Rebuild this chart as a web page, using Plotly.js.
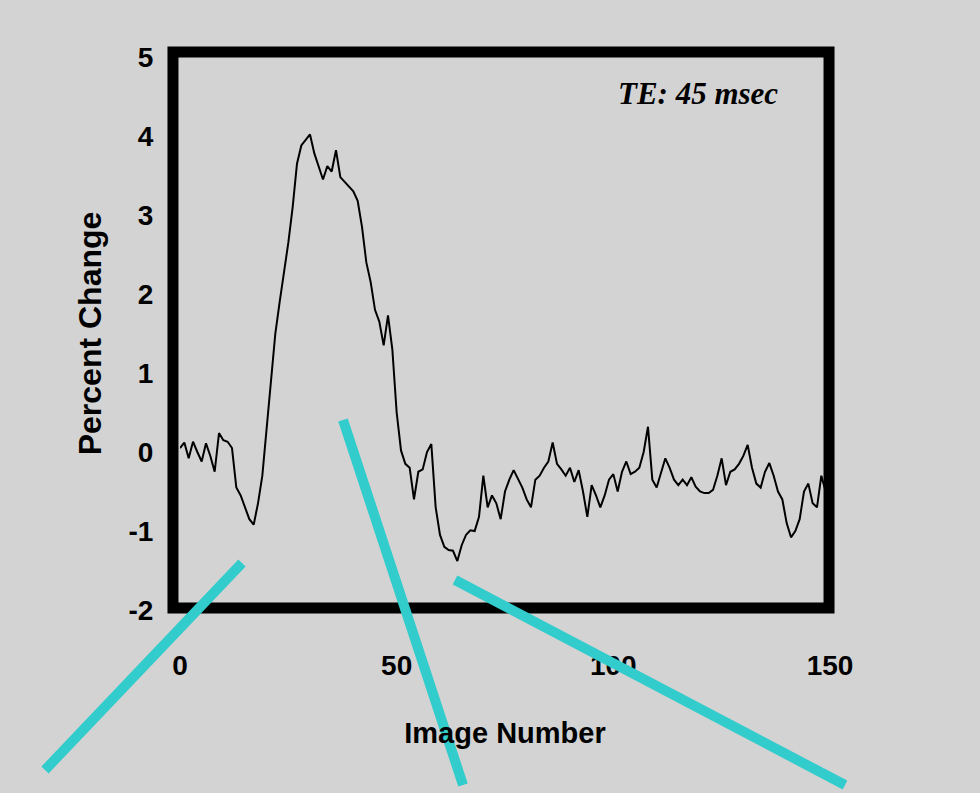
<!DOCTYPE html>
<html>
<head>
<meta charset="utf-8">
<script src="https://cdn.plot.ly/plotly-3.0.1.min.js"></script>
<style>html,body{margin:0;padding:0;background:#d3d3d3;}#chart{width:980px;height:793px;}</style>
</head>
<body>
<div id="chart"></div>
<script>
// Image numbers 0..150
const imageNumber = [];
for (let i = 0; i <= 150; i++) imageNumber.push(i);

// Percent change
const percentChange = [
  0.05, 0.12, -0.08, 0.13, 0.0, -0.12, 0.11, -0.05, -0.25, 0.24,
  0.15, 0.13, 0.05, -0.45, -0.55, -0.7, -0.85, -0.92, -0.65, -0.3,
  0.3, 0.95, 1.5, 1.9, 2.25, 2.65, 3.1, 3.65, 3.88, 3.95,
  4.02, 3.78, 3.6, 3.45, 3.62, 3.55, 3.82, 3.48, 3.42, 3.36,
  3.3, 3.18, 2.85, 2.4, 2.15, 1.8, 1.65, 1.35, 1.73, 1.3,
  0.5, 0.02, -0.15, -0.2, -0.6, -0.25, -0.22, 0.0, 0.1, -0.7,
  -1.05, -1.2, -1.24, -1.25, -1.38, -1.18, -1.05, -0.99, -1.0, -0.82,
  -0.3, -0.7, -0.55, -0.65, -0.85, -0.5, -0.35, -0.23, -0.35, -0.45,
  -0.6, -0.7, -0.35, -0.3, -0.2, -0.12, 0.12, -0.15, -0.22, -0.3,
  -0.2, -0.38, -0.23, -0.5, -0.82, -0.42, -0.55, -0.7, -0.55, -0.35,
  -0.28, -0.5, -0.25, -0.12, -0.28, -0.25, -0.2, 0.0, 0.32, -0.35,
  -0.45, -0.25, -0.08, -0.2, -0.35, -0.42, -0.35, -0.42, -0.32, -0.44,
  -0.5, -0.52, -0.52, -0.48, -0.3, -0.08, -0.42, -0.25, -0.22, -0.15,
  -0.05, 0.09, -0.2, -0.4, -0.45, -0.25, -0.14, -0.3, -0.5, -0.6,
  -0.9, -1.08, -1.0, -0.85, -0.5, -0.4, -0.65, -0.7, -0.3, -0.5,
  -0.6
];

const xTickVals = [0, 50, 100, 150];
const xTickText = ['0', '50', '100', '150'];
const yTickVals = [-2, -1, 0, 1, 2, 3, 4, 5];
const yTickText = ['-2', '-1', '0', '1', '2', '3', '4', '5'];

const trace = {
  x: imageNumber,
  y: percentChange,
  type: 'scatter',
  mode: 'lines',
  line: {color: '#000000', width: 2},
  hoverinfo: 'skip'
};

const cyan = '#33cccc';
const sans = 'Liberation Sans, Arial, sans-serif';
const layout = {
  width: 980,
  height: 793,
  paper_bgcolor: '#d3d3d3',
  plot_bgcolor: '#d3d3d3',
  showlegend: false,
  margin: {l: 180, r: 150, t: 57, b: 183},
  xaxis: {
    range: [0, 150],
    tickvals: xTickVals, ticktext: xTickText,
    ticks: 'outside', ticklen: 30, tickcolor: 'rgba(0,0,0,0)',
    showgrid: false, zeroline: false, showline: false,
    tickfont: {family: sans, size: 28, color: '#000', weight: 'bold'},
    title: {text: 'Image Number', standoff: 43,
      font: {family: sans, size: 29, color: '#000', weight: 'bold'}}
  },
  yaxis: {
    range: [-2, 5],
    tickvals: yTickVals, ticktext: yTickText,
    ticks: 'outside', ticklen: 20, tickcolor: 'rgba(0,0,0,0)',
    showgrid: false, zeroline: false, showline: false,
    tickfont: {family: sans, size: 28, color: '#000', weight: 'bold'},
    title: {text: 'Percent Change', standoff: 17,
      font: {family: sans, size: 32, color: '#000', weight: 'bold'}}
  },
  annotations: [{
    xref: 'paper', yref: 'paper', x: 0.797, y: 0.934,
    xanchor: 'center', yanchor: 'middle',
    text: '<b><i>TE: 45 msec</i></b>', showarrow: false,
    font: {family: 'Liberation Serif, Times New Roman, serif', size: 31, color: '#000'}
  }],
  shapes: [
    {type: 'rect', xref: 'paper', yref: 'paper', x0: -0.0108, x1: 0.9985, y0: 0.0036, y1: 1.0090,
     line: {color: '#000', width: 11}, fillcolor: 'rgba(0,0,0,0)', layer: 'above'},
    {type: 'line', xref: 'paper', yref: 'paper', x0: -0.2077, y0: -0.2893, x1: 0.0954, y1: 0.0850,
     line: {color: cyan, width: 10}, layer: 'above'},
    {type: 'line', xref: 'paper', yref: 'paper', x0: 0.2508, y0: 0.3436, x1: 0.4354, y1: -0.3165,
     line: {color: cyan, width: 10}, layer: 'above'},
    {type: 'line', xref: 'paper', yref: 'paper', x0: 0.4231, y0: 0.0542, x1: 1.0231, y1: -0.3165,
     line: {color: cyan, width: 10}, layer: 'above'}
  ]
};

Plotly.newPlot('chart', [trace], layout, {displayModeBar: false, staticPlot: true});
</script>
</body>
</html>
